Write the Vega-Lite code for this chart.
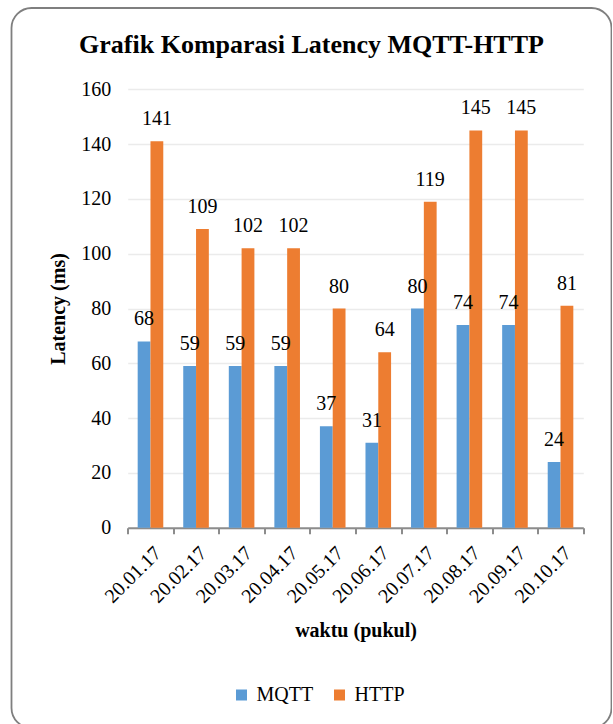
{
  "$schema": "https://vega.github.io/schema/vega-lite/v6.json",
  "width": 600,
  "height": 720,
  "autosize": {"type": "none"},
  "padding": {"left": 11.5, "top": 8, "right": 0, "bottom": 0},
  "background": "white",
  "config": {
    "font": "Liberation Serif, Times New Roman, serif",
    "view": {"stroke": "#7f7f7f", "strokeWidth": 1.8, "cornerRadius": 20, "fill": "white"}
  },
  "title": {
    "text": "Grafik Komparasi Latency MQTT-HTTP",
    "font": "Liberation Serif, Times New Roman, serif",
    "fontSize": 26,
    "fontWeight": "bold",
    "color": "black",
    "anchor": "middle",
    "frame": "group",
    "baseline": "bottom",
    "offset": -51,
    "dy": 25
  },
  "data": {
    "values": [
      {"waktu": "20.01.17", "protokol": "MQTT", "latency": 68},
      {"waktu": "20.01.17", "protokol": "HTTP", "latency": 141},
      {"waktu": "20.02.17", "protokol": "MQTT", "latency": 59},
      {"waktu": "20.02.17", "protokol": "HTTP", "latency": 109},
      {"waktu": "20.03.17", "protokol": "MQTT", "latency": 59},
      {"waktu": "20.03.17", "protokol": "HTTP", "latency": 102},
      {"waktu": "20.04.17", "protokol": "MQTT", "latency": 59},
      {"waktu": "20.04.17", "protokol": "HTTP", "latency": 102},
      {"waktu": "20.05.17", "protokol": "MQTT", "latency": 37},
      {"waktu": "20.05.17", "protokol": "HTTP", "latency": 80},
      {"waktu": "20.06.17", "protokol": "MQTT", "latency": 31},
      {"waktu": "20.06.17", "protokol": "HTTP", "latency": 64},
      {"waktu": "20.07.17", "protokol": "MQTT", "latency": 80},
      {"waktu": "20.07.17", "protokol": "HTTP", "latency": 119},
      {"waktu": "20.08.17", "protokol": "MQTT", "latency": 74},
      {"waktu": "20.08.17", "protokol": "HTTP", "latency": 145},
      {"waktu": "20.09.17", "protokol": "MQTT", "latency": 74},
      {"waktu": "20.09.17", "protokol": "HTTP", "latency": 145},
      {"waktu": "20.10.17", "protokol": "MQTT", "latency": 24},
      {"waktu": "20.10.17", "protokol": "HTTP", "latency": 81}
    ]
  },
  "encoding": {
    "x": {
      "field": "waktu",
      "type": "nominal",
      "sort": null,
      "scale": {"range": [116.2, 571.8], "paddingInner": 0, "paddingOuter": 0},
      "axis": {
        "orient": "bottom",
        "offset": -200.3,
        "title": "waktu (pukul)",
        "titleFont": "Liberation Serif, Times New Roman, serif",
        "titleFontSize": 20,
        "titleFontWeight": "bold",
        "titleColor": "black",
        "titlePadding": 14,
        "tickBand": "extent",
        "labelAngle": -45,
        "labelAlign": "right",
        "labelBaseline": "top",
        "labelFont": "Liberation Serif, Times New Roman, serif",
        "labelFontSize": 20,
        "labelColor": "black",
        "labelPadding": 9,
        "domainColor": "#8c8c8c",
        "domainWidth": 2,
        "tickColor": "#8c8c8c",
        "tickWidth": 2,
        "tickSize": 6,
        "grid": false
      }
    },
    "xOffset": {
      "field": "protokol",
      "type": "nominal",
      "sort": ["MQTT", "HTTP"],
      "scale": {"paddingInner": 0, "paddingOuter": 0.78}
    },
    "y": {
      "field": "latency",
      "type": "quantitative",
      "scale": {"domain": [0, 160], "range": [519.7, 81.3], "nice": false},
      "axis": {
        "orient": "left",
        "offset": -116.2,
        "values": [0, 20, 40, 60, 80, 100, 120, 140, 160],
        "title": "Latency (ms)",
        "titleFont": "Liberation Serif, Times New Roman, serif",
        "titleFontSize": 20,
        "titleFontWeight": "bold",
        "titleColor": "black",
        "titlePadding": 12,
        "domain": false,
        "ticks": false,
        "tickSize": 0,
        "labelFont": "Liberation Serif, Times New Roman, serif",
        "labelFontSize": 20,
        "labelColor": "black",
        "labelPadding": 17,
        "grid": true,
        "gridColor": "#ebebeb",
        "gridWidth": 1.5
      }
    },
    "color": {
      "field": "protokol",
      "type": "nominal",
      "sort": ["MQTT", "HTTP"],
      "scale": {"domain": ["MQTT", "HTTP"], "range": ["#5B9BD5", "#ED7D31"]},
      "legend": {
        "orient": "none",
        "legendX": 220,
        "legendY": 677,
        "direction": "horizontal",
        "title": null,
        "padding": 0,
        "symbolType": "square",
        "symbolSize": 121,
        "symbolStrokeWidth": 0,
        "labelFont": "Liberation Serif, Times New Roman, serif",
        "labelFontSize": 20,
        "labelColor": "black",
        "labelOffset": 5,
        "columnPadding": 16
      }
    }
  },
  "layer": [
    {"mark": {"type": "bar"}},
    {
      "mark": {"type": "text", "baseline": "alphabetic", "dy": -16, "fontSize": 20, "font": "Liberation Serif, Times New Roman, serif", "color": "black"},
      "encoding": {"text": {"field": "latency", "type": "quantitative"}, "color": {"value": "black"}}
    }
  ]
}
